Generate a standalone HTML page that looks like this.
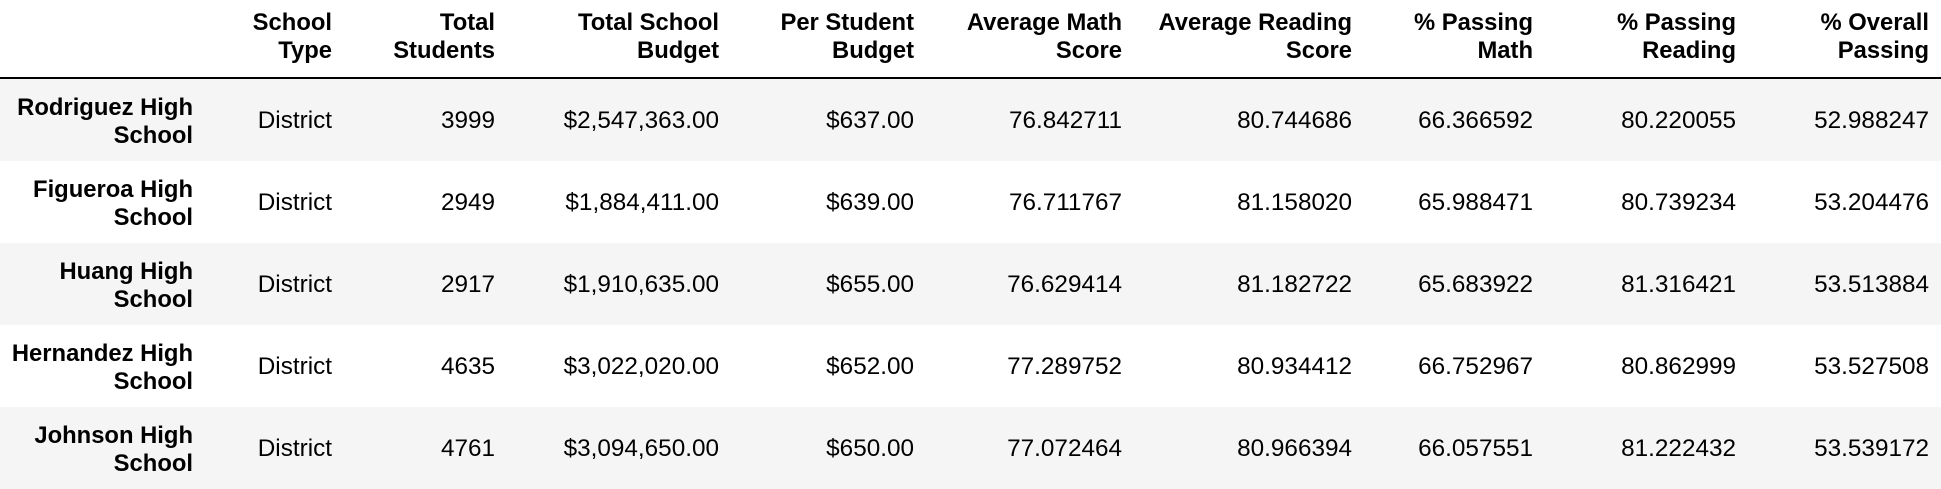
<!DOCTYPE html>
<html><head><meta charset="utf-8"><style>
body{margin:0;width:1941px;height:478px;overflow:hidden;background:#fff;font-family:"Liberation Sans",Arial,sans-serif;color:#000;position:relative}
.c{position:absolute;text-align:right;font-size:24.3px;line-height:28px;white-space:nowrap}
.h{font-weight:bold;font-size:23.8px}
.row{position:absolute;left:0;width:1941px;height:82px}
</style></head><body>
<div id="t"></div>
<script>
const rights=[193,332,495,719,914,1122,1352,1533,1736,1929];
const headers=[["",""],["School","Type"],["Total","Students"],["Total School","Budget"],["Per Student","Budget"],["Average Math","Score"],["Average Reading","Score"],["% Passing","Math"],["% Passing","Reading"],["% Overall","Passing"]];
const schools=["Rodriguez High School","Figueroa High School","Huang High School","Hernandez High School","Johnson High School"];
const types=["District","District","District","District","District"];
const students=["3999","2949","2917","4635","4761"];
const budgets=["$2,547,363.00","$1,884,411.00","$1,910,635.00","$3,022,020.00","$3,094,650.00"];
const perStudent=["$637.00","$639.00","$655.00","$652.00","$650.00"];
const mathScore=["76.842711","76.711767","76.629414","77.289752","77.072464"];
const readScore=["80.744686","81.158020","81.182722","80.934412","80.966394"];
const passMath=["66.366592","65.988471","65.683922","66.752967","66.057551"];
const passRead=["80.220055","80.739234","81.316421","80.862999","81.222432"];
const overall=["52.988247","53.204476","53.513884","53.527508","53.539172"];
const t=document.getElementById('t');
function cell(txt,right,top,bold,name){const d=document.createElement('div');d.className='c'+(bold?' h':'');d.style.right=(1941-right)+'px';d.style.top=top+'px';d.innerHTML=txt;


t.appendChild(d);}
headers.forEach((h,i)=>{if(h[0])cell(h[0]+'<br>'+h[1],rights[i],9,true,'column-header');});
const line=document.createElement('div');line.style.cssText='position:absolute;left:0;top:77px;width:1941px;height:2px;background:#000';


t.appendChild(line);
schools.forEach((s,r)=>{const top=79+r*82;
const row=document.createElement('div');row.className='row';row.style.top=top+'px';row.style.background=r%2===0?'#f5f5f5':'#fff';


t.appendChild(row);
const parts=s.split(' ');cell(parts.slice(0,-1).join(' ')+'<br>'+parts[parts.length-1],rights[0],top+15,true,'row-label');
const vals=[types[r],students[r],budgets[r],perStudent[r],mathScore[r],readScore[r],passMath[r],passRead[r],overall[r]];
vals.forEach((v,i)=>cell(v,rights[i+1],top+28,false,'table-cell'));
});
</script>
</body></html>
